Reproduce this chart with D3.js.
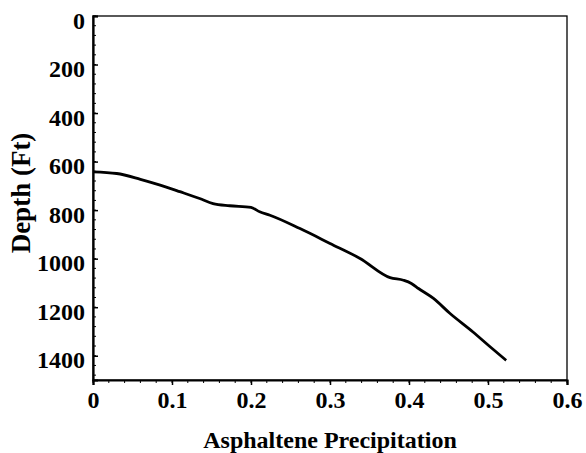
<!DOCTYPE html>
<html>
<head>
<meta charset="utf-8">
<script src="https://cdn.jsdelivr.net/npm/d3@7"></script>
<style>
  body { margin: 0; background: #fff; }
</style>
</head>
<body>
<div id="chart"></div>
<script>
"use strict";

// Data
const precipitation = [0, 0.03, 0.06, 0.085, 0.11, 0.135, 0.152, 0.173, 0.2, 0.211, 0.224, 0.262, 0.3, 0.338, 0.376, 0.393, 0.403, 0.412, 0.431, 0.452, 0.481, 0.503, 0.523];
const depth = [642, 649, 673, 697, 724, 752, 773, 782, 789, 807, 821, 876, 937, 999, 1078, 1089, 1102, 1123, 1164, 1226, 1302, 1364, 1419];
const xTicks = [0, 0.1, 0.2, 0.3, 0.4, 0.5, 0.6];
const yTicks = [0, 200, 400, 600, 800, 1000, 1200, 1400];

const width = 586;
const height = 453;
const margin = { top: 16, right: 19, bottom: 73, left: 93 };
const serif = "'Liberation Serif', 'Times New Roman', Times, 'DejaVu Serif', serif";

const svg = d3.select("#chart")
  .append("svg")
  .attr("width", width)
  .attr("height", height)
  .attr("font-family", serif)
  .attr("font-weight", "bold");

const x = d3.scaleLinear().domain([0, 0.6]).range([margin.left, width - margin.right]);
const y = d3.scaleLinear().domain([0, 1500]).range([margin.top, height - margin.bottom]);

// frame
svg.append("rect")
  .attr("x", x(0)).attr("y", y(0))
  .attr("width", x(0.6) - x(0)).attr("height", y(1500) - y(0))
  .attr("fill", "none").attr("stroke", "#000").attr("stroke-width", 1.3);

// minor ticks
const yMinor = d3.range(0, 1501, 40);
svg.append("g").selectAll("line").data(yMinor).join("line")
  .attr("x1", x(0)).attr("x2", x(0) + 3)
  .attr("y1", d => y(d)).attr("y2", d => y(d))
  .attr("stroke", "#000").attr("stroke-width", 1);

const xMinor = d3.range(0, 0.6001, 0.02);
svg.append("g").selectAll("line").data(xMinor).join("line")
  .attr("x1", d => x(d)).attr("x2", d => x(d))
  .attr("y1", y(1500)).attr("y2", y(1500) + 3)
  .attr("stroke", "#000").attr("stroke-width", 1);

// axes
const yAxis = svg.append("g")
  .attr("transform", `translate(${x(0)},0)`)
  .call(d3.axisLeft(y).tickValues(yTicks).tickSize(-5).tickPadding(8).tickFormat(d3.format("d")));
yAxis.attr("font-family", serif).attr("font-size", 24);
yAxis.select(".domain").attr("stroke-width", 2.2);
yAxis.selectAll(".tick line").attr("stroke-width", 1.5);
yAxis.selectAll("text").attr("fill", "#000").attr("dy", "0.5em");

const xAxis = svg.append("g")
  .attr("transform", `translate(0,${y(1500)})`)
  .call(d3.axisBottom(x).tickValues(xTicks).tickSize(5).tickPadding(6).tickFormat(d => d === 0 ? "0" : d3.format(".1f")(d)));
xAxis.attr("font-family", serif).attr("font-size", 24);
xAxis.select(".domain").attr("stroke-width", 2.2);
xAxis.selectAll(".tick line").attr("stroke-width", 1.5);
xAxis.selectAll("text").attr("fill", "#000");

// curve
const line = d3.line()
  .x((d, i) => x(precipitation[i]))
  .y(d => y(d))
  .curve(d3.curveMonotoneX);

svg.append("path")
  .datum(depth)
  .attr("d", line)
  .attr("fill", "none")
  .attr("stroke", "#000")
  .attr("stroke-width", 2.8);

// titles
svg.append("text")
  .attr("x", (x(0) + x(0.6)) / 2)
  .attr("y", 448)
  .attr("text-anchor", "middle")
  .attr("font-size", 24)
  .text("Asphaltene Precipitation");

svg.append("text")
  .attr("transform", "translate(30,193) rotate(-90)")
  .attr("text-anchor", "middle")
  .attr("font-size", 27)
  .text("Depth (Ft)");
</script>
</body>
</html>
